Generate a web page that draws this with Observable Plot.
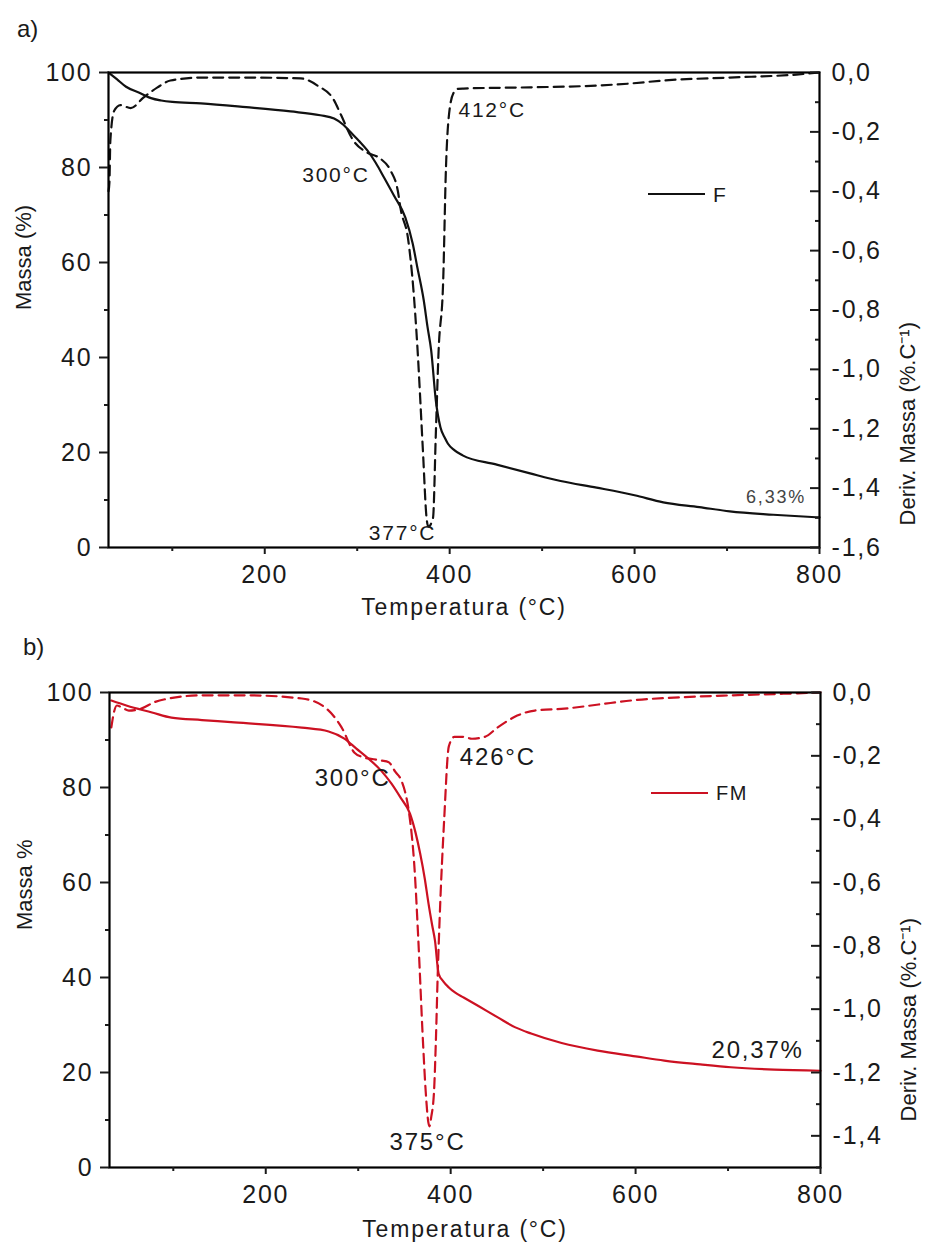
<!DOCTYPE html>
<html><head><meta charset="utf-8">
<script src="https://cdn.jsdelivr.net/npm/d3@7"></script>
<script src="https://cdn.jsdelivr.net/npm/@observablehq/plot@0.6"></script>
<style>
body{margin:0;background:#fff;}
#wrap{position:relative;width:926px;height:1249px;overflow:hidden;font-family:Arial,"Liberation Sans",sans-serif;color:#1a1a1a;background:#fff;}
#wrap svg{display:block;}
.lab{position:absolute;line-height:1;white-space:nowrap;letter-spacing:1.5px;}
.legline{position:absolute;}
</style></head>
<body><div id="wrap"><div id="pa"></div><div id="pb"></div></div>
<script>
// ---------- shared axes ----------
const xDomain = [31, 800];
const xMajor = [200, 400, 600, 800];
const xMinor = [100, 300, 500, 700];
const massMajor = [0, 20, 40, 60, 80, 100];
const massMinor = [10, 30, 50, 70, 90];
const xTitle = "Temperatura (°C)";

// ---------- panel a) : F ----------
const temperaturaTG_F = [31, 40, 50, 66, 77, 88, 100, 131, 180, 228, 260, 275, 285, 293, 302, 311, 320, 329, 340, 352, 360, 365, 372, 376, 380, 385, 390, 395, 398, 405, 414, 450, 487, 520, 559, 600, 631, 670, 703, 750, 800];
const massaTG_F = [100, 98.6, 97.0, 95.6, 94.6, 94.1, 93.8, 93.5, 92.7, 91.8, 91.0, 90.3, 89.0, 87.4, 85.6, 83.6, 81.0, 77.9, 74.0, 69.5, 64.0, 59.0, 52.0, 46.5, 41.5, 31.0, 25.3, 23.0, 21.9, 20.5, 19.4, 17.5, 15.6, 14.0, 12.6, 11.0, 9.5, 8.5, 7.6, 6.9, 6.33];
const temperaturaDTG_F = [31, 32, 33, 37, 44, 55, 69, 84, 98, 131, 180, 239, 257, 275, 282, 296, 311, 325, 336, 344, 347, 355, 361, 365, 371, 375, 377, 382, 385, 388, 393, 396, 399, 404, 409, 415, 487, 559, 596, 631, 703, 775, 800];
const derivDTG_F = [-0.40, -0.37, -0.23, -0.13, -0.11, -0.12, -0.084, -0.05, -0.027, -0.017, -0.017, -0.02, -0.044, -0.094, -0.14, -0.23, -0.27, -0.29, -0.33, -0.40, -0.46, -0.56, -0.74, -0.92, -1.27, -1.50, -1.53, -1.50, -1.22, -0.94, -0.70, -0.32, -0.15, -0.07, -0.055, -0.054, -0.05, -0.044, -0.037, -0.027, -0.017, -0.007, 0];
const derivTicks_F = [0, -0.2, -0.4, -0.6, -0.8, -1.0, -1.2, -1.4, -1.6];
const derivMinor_F = [-0.1, -0.3, -0.5, -0.7, -0.9, -1.1, -1.3, -1.5];
const picoLabels_F = ["300°C", "412°C", "377°C"];
const picoTemp_F = [277, 446, 349];
const picoMassa_F = [78.3, 92.0, 2.95];
const residuoLabel_F = ["6,33%"];
const residuoTemp_F = [753];
const residuoMassa_F = [10.5];

// ---------- panel b) : FM ----------
const temperaturaTG_FM = [33, 50, 77, 98, 131, 166, 239, 268, 285, 298, 311, 325, 336, 346, 356, 362, 367, 372, 376, 380, 383, 387, 392, 398, 405, 414, 430, 451, 470, 487, 520, 559, 600, 631, 670, 703, 750, 800];
const massaTG_FM = [98.3, 97.2, 95.8, 94.7, 94.2, 93.7, 92.6, 91.8, 90.3, 88.2, 86.1, 83.5, 80.8, 77.8, 74.5, 70.5, 66.1, 60.8, 55.6, 51.0, 47.8, 40.8, 39.2, 37.9, 36.8, 35.8, 34.0, 31.6, 29.5, 28.2, 26.2, 24.6, 23.4, 22.5, 21.7, 21.1, 20.6, 20.37];
const temperaturaDTG_FM = [33, 36, 39, 46, 52, 66, 80, 95, 131, 180, 239, 264, 282, 296, 306, 315, 325, 333, 340, 347, 352, 355, 361, 365, 370, 373, 376, 377, 379, 382, 384, 386, 388, 393, 398, 404, 414, 423, 437, 451, 472, 491, 523, 560, 596, 650, 703, 760, 800];
const derivDTG_FM = [-0.11, -0.06, -0.041, -0.05, -0.057, -0.05, -0.03, -0.019, -0.009, -0.009, -0.019, -0.047, -0.11, -0.19, -0.205, -0.21, -0.215, -0.22, -0.25, -0.28, -0.33, -0.38, -0.56, -0.78, -1.10, -1.26, -1.36, -1.37, -1.34, -1.26, -1.10, -0.89, -0.72, -0.40, -0.17, -0.14, -0.14, -0.146, -0.14, -0.11, -0.073, -0.057, -0.051, -0.038, -0.025, -0.015, -0.009, -0.004, 0];
const derivTicks_FM = [0, -0.2, -0.4, -0.6, -0.8, -1.0, -1.2, -1.4];
const derivMinor_FM = [-0.1, -0.3, -0.5, -0.7, -0.9, -1.1, -1.3, -1.5];
const picoLabels_FM = ["300°C", "426°C", "375°C"];
const picoTemp_FM = [294, 451, 375];
const picoMassa_FM = [81.9, 86.3, 5.3];
const residuoLabel_FM = ["20,37%"];
const residuoTemp_FM = [732];
const residuoMassa_FM = [24.6];

const fmtD = v => (Math.abs(v) < 1e-9 ? 0 : v).toFixed(1).replace(".", ",");

function makePanel(c) {
  const dScale = d3.scaleLinear().domain([c.dMin, 0]).range([0, 100]);
  const tg = c.tgT.map((T, i) => ({T, m: c.tgM[i]}));
  const dtg = c.dtgT.map((T, i) => ({T, y: dScale(c.dtgD[i])}));
  const ann = c.annText.map((t, i) => ({t, T: c.annT[i], m: c.annM[i]}));
  const res = c.resText.map((t, i) => ({t, T: c.resT[i], m: c.resM[i]}));
  const svg = Plot.plot({
    width: 926, height: c.height,
    marginTop: 72, marginBottom: c.marginBottom, marginLeft: c.marginLeft, marginRight: c.marginRight,
    x: {domain: xDomain, axis: null, label: null},
    y: {domain: [0, 100], axis: null, label: null},
    style: {fontFamily: "Arial, 'Liberation Sans', sans-serif", fontSize: "25px", color: "#1a1a1a", background: "#fff", overflow: "visible"},
    marks: [
      Plot.line(dtg, {x: "T", y: "y", stroke: c.color, strokeWidth: 2.2, strokeDasharray: "10,6", curve: "monotone-x"}),
      Plot.line(tg, {x: "T", y: "m", stroke: c.color, strokeWidth: 2.2, curve: "monotone-x"}),
      Plot.frame({stroke: "#000", strokeWidth: 2.2}),
      Plot.axisY(massMajor, {anchor: "left", tickSize: 9, tickPadding: 7, strokeWidth: 2, label: null, fontSize: 25}),
      Plot.axisY(massMinor, {anchor: "left", tickSize: 4, tickFormat: () => "", strokeWidth: 2, label: null}),
      Plot.axisX(xMajor, {anchor: "bottom", tickSize: 7, tickPadding: 11, strokeWidth: 2, label: null, fontSize: 25}),
      Plot.axisX(xMinor, {anchor: "bottom", tickSize: 4, tickFormat: () => "", strokeWidth: 2, label: null}),
      Plot.axisY(c.dTicks.map(dScale), {anchor: "left", frameAnchor: "right", tickSize: 9, tickFormat: () => "", strokeWidth: 2, label: null}),
      Plot.axisY(c.dMinor.map(dScale), {anchor: "left", frameAnchor: "right", tickSize: 4, tickFormat: () => "", strokeWidth: 2, label: null}),
      Plot.axisY(c.dTicks.map(dScale), {anchor: "right", tickSize: 0, tickPadding: 12, tickFormat: m => fmtD(dScale.invert(m)), label: null, fontSize: 25}),
      Plot.text(ann, {x: "T", y: "m", text: "t", fontSize: c.annSize, fill: "#1a1a1a"}),
      Plot.text(res, {x: "T", y: "m", text: "t", fontSize: c.resSize, fill: c.resFill}),
      Plot.text([c.yTitle], {frameAnchor: "left", text: d => d, rotate: -90, dx: -85, fontSize: 22, fill: "#1a1a1a"}),
      Plot.text([c.y2Title], {frameAnchor: "right", text: d => d, rotate: -90, dx: 88, dy: c.y2dy, fontSize: 22, fill: "#1a1a1a"}),
      Plot.text([xTitle], {frameAnchor: "bottom", text: d => d, dy: c.xTitleDy, fontSize: 23, fill: "#1a1a1a"})
    ]
  });
  svg.querySelectorAll("text").forEach(el => {
    const tr = el.getAttribute("transform") || "";
    el.style.letterSpacing = tr.includes("rotate") ? "0px" : "1.8px";
  });
  return svg;
}

document.getElementById("pa").appendChild(makePanel({
  height: 620, marginBottom: 73, marginLeft: 108, marginRight: 107,
  tgT: temperaturaTG_F, tgM: massaTG_F, dtgT: temperaturaDTG_F, dtgD: derivDTG_F,
  dMin: -1.6, dTicks: derivTicks_F, dMinor: derivMinor_F, color: "#111",
  annText: picoLabels_F, annT: picoTemp_F, annM: picoMassa_F, annSize: 21,
  resText: residuoLabel_F, resT: residuoTemp_F, resM: residuoMassa_F, resSize: 18, resFill: "#444",
  yTitle: "Massa (%)", y2Title: "Deriv. Massa (%.C⁻¹)", y2dy: 12, xTitleDy: 67
}));
document.getElementById("pb").appendChild(makePanel({
  height: 629, marginBottom: 82, marginLeft: 109, marginRight: 106,
  tgT: temperaturaTG_FM, tgM: massaTG_FM, dtgT: temperaturaDTG_FM, dtgD: derivDTG_FM,
  dMin: -1.5, dTicks: derivTicks_FM, dMinor: derivMinor_FM, color: "#cc1122",
  annText: picoLabels_FM, annT: picoTemp_FM, annM: picoMassa_FM, annSize: 24,
  resText: residuoLabel_FM, resT: residuoTemp_FM, resM: residuoMassa_FM, resSize: 24, resFill: "#1a1a1a",
  yTitle: "Massa %", y2Title: "Deriv. Massa (%.C⁻¹)", y2dy: -12, xTitleDy: 69
}));

// panel letters and legends (HTML overlay)
const panelLetters = ["a)", "b)"];
const legendNames = ["F", "FM"];
const legendColors = ["#111", "#cc1122"];
const wrap = document.getElementById("wrap");
const letterPos = [[17, 17], [23, 635]];
panelLetters.forEach((t, i) => {
  const d = document.createElement("div");
  d.className = "lab"; d.textContent = t;
  d.style.cssText += `left:${letterPos[i][0]}px;top:${letterPos[i][1]}px;font-size:24px;letter-spacing:0;`;
  wrap.appendChild(d);
});
const legPos = [[648, 194, 21], [651, 793, 20]];
legendNames.forEach((t, i) => {
  const [lx, ly, fs] = legPos[i];
  const ln = document.createElement("div");
  ln.className = "legline";
  ln.style.cssText = `left:${lx}px;top:${ly - 1}px;width:57px;height:2px;background:${legendColors[i]};`;
  wrap.appendChild(ln);
  const tx = document.createElement("div");
  tx.className = "lab"; tx.textContent = t;
  tx.style.cssText += `left:${lx + 65}px;top:${ly - fs / 2}px;font-size:${fs}px;`;
  wrap.appendChild(tx);
});
</script></body></html>
